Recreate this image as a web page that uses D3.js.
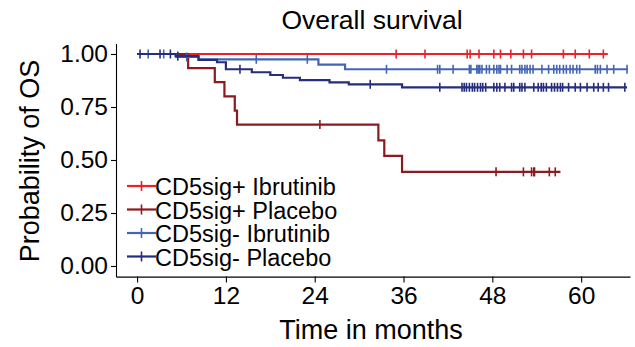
<!DOCTYPE html>
<html>
<head>
<meta charset="utf-8">
<script src="https://cdn.jsdelivr.net/npm/d3@7"></script>
<style>
  body { margin: 0; background: #fff; }
  svg { display: block; font-family: "Liberation Sans", Arial, sans-serif; }
</style>
</head>
<body>
<svg id="chart" width="635" height="347"></svg>
<script>
// group names in legend order
const groups = ["CD5sig+ Ibrutinib", "CD5sig+ Placebo", "CD5sig- Ibrutinib", "CD5sig- Placebo"];

// step curves: [month, survival after that month]
const posIbruSteps = [[0, 1], [63.6, 1]];
const posPlacSteps = [[0, 1], [6.9, 0.933], [10.5, 0.867], [11.8, 0.8], [13.2, 0.733], [13.5, 0.667],
  [32.6, 0.593], [33.4, 0.519], [35.8, 0.444], [57.2, 0.444]];
const negIbruSteps = [[0, 1], [5.3, 0.986], [8.3, 0.975], [24.5, 0.95], [28.1, 0.928], [66.3, 0.928]];
const negPlacSteps = [[0, 1], [5.2, 0.99], [8.3, 0.972], [10.8, 0.961], [12.0, 0.928], [15.5, 0.914],
  [18.0, 0.901], [19.7, 0.888], [22.0, 0.877], [26.0, 0.866], [28.6, 0.857], [35.8, 0.843], [66.2, 0.843]];

// censored times (months)
const posIbruCens = [35.0, 38.9, 44.6, 45.0, 46.2, 48.2, 49.1, 50.5, 52.2, 53.3, 57.6, 59.2, 61.1, 63.0];
const posPlacCens = [24.7, 48.5, 52.2, 53.3, 53.6, 53.7, 55.7, 56.5];
const negIbruCens = [1.5, 3.6, 6.7, 16.1, 23.0, 33.7, 40.6, 40.9, 42.7, 44.9, 45.1, 45.9, 46.1, 46.3, 46.6,
  47.2, 47.6, 48.2, 48.6, 48.9, 49.1, 50.0, 50.6, 51.7, 52.0, 52.4, 52.7, 53.1, 53.5, 54.7, 55.6, 56.3,
  56.7, 57.1, 57.6, 58.0, 58.5, 58.9, 59.4, 59.8, 61.9, 62.2, 62.6, 63.5, 64.4, 66.2];
const negPlacCens = [0.4, 3.1, 4.5, 5.5, 13.9, 31.5, 40.9, 43.9, 44.2, 44.5, 44.9, 45.3, 45.6, 46.0, 46.4,
  46.7, 47.1, 48.2, 48.6, 49.0, 49.7, 50.6, 50.9, 51.7, 52.0, 52.4, 53.6, 54.2, 54.6, 54.9, 55.3, 56.0,
  56.4, 56.8, 57.2, 57.5, 58.3, 59.2, 59.9, 60.8, 61.7, 62.3, 63.0, 63.7, 65.9];

const xTicks = [0, 12, 24, 36, 48, 60];
const yTicks = [0, 0.25, 0.5, 0.75, 1];

const colors = ["#ec2027", "#8c1a1e", "#4466b2", "#252d7e"];

const steps = [posIbruSteps, posPlacSteps, negIbruSteps, negPlacSteps];
const cens = [posIbruCens, posPlacCens, negIbruCens, negPlacCens];

const svg = d3.select("#chart");

const x = d3.scaleLinear().domain([-2.85, 66.6]).range([116, 630]);
const y = d3.scaleLinear().domain([-0.05, 1.05]).range([276.6, 43.4]);

// survival value at a given time (step function)
function survAt(s, t) {
  let v = s[0][1];
  s.forEach(p => { if (p[0] <= t) v = p[1]; });
  return v;
}

// axes
const xAxis = svg.append("g")
  .attr("transform", "translate(0," + y(-0.05) + ")")
  .call(d3.axisBottom(x).tickValues(xTicks).tickSize(6).tickPadding(4).tickSizeOuter(0));
const yAxis = svg.append("g")
  .attr("transform", "translate(" + x(-2.85) + ",0)")
  .call(d3.axisLeft(y).tickValues(yTicks).tickFormat(d3.format(".2f")).tickSize(5).tickPadding(3).tickSizeOuter(0));

[xAxis, yAxis].forEach(a => {
  a.select(".domain").attr("stroke", "#000").attr("stroke-width", 1.1);
  a.selectAll(".tick line").attr("stroke", "#000").attr("stroke-width", 1.1);
  a.selectAll(".tick text").attr("fill", "#000").style("font-size", "24.5px");
});

// curves
const line = d3.line().curve(d3.curveStepAfter).x(d => x(d[0])).y(d => y(d[1]));
const plot = svg.append("g");
steps.forEach((s, i) => {
  plot.append("path")
    .datum(s)
    .attr("d", line)
    .attr("fill", "none")
    .attr("stroke", colors[i])
    .attr("stroke-width", 2.2);
  plot.selectAll(".c" + i)
    .data(cens[i])
    .join("line")
    .attr("class", "c" + i)
    .attr("x1", d => x(d)).attr("x2", d => x(d))
    .attr("y1", d => y(survAt(s, d)) - 4.5)
    .attr("y2", d => y(survAt(s, d)) + 4.5)
    .attr("stroke", colors[i])
    .attr("stroke-width", 1.6);
});

// legend
const legend = svg.append("g");
groups.forEach((g, i) => {
  const ly = 186 + i * 23.5;
  legend.append("line").attr("x1", 127).attr("x2", 156).attr("y1", ly).attr("y2", ly)
    .attr("stroke", colors[i]).attr("stroke-width", 2.2);
  legend.append("line").attr("x1", 141.5).attr("x2", 141.5).attr("y1", ly - 5).attr("y2", ly + 5)
    .attr("stroke", colors[i]).attr("stroke-width", 1.6);
  legend.append("text").attr("x", 155).attr("y", ly + 9)
    .style("font-size", "23.5px").attr("fill", "#000").text(g);
});

// titles
svg.append("text").attr("x", 372).attr("y", 29).attr("text-anchor", "middle")
  .style("font-size", "26.5px").text("Overall survival");
svg.append("text").attr("x", 371).attr("y", 339).attr("text-anchor", "middle")
  .style("font-size", "27px").text("Time in months");
svg.append("text").attr("transform", "translate(39,161) rotate(-90)").attr("text-anchor", "middle")
  .style("font-size", "27px").text("Probability of OS");
</script>
</body>
</html>
